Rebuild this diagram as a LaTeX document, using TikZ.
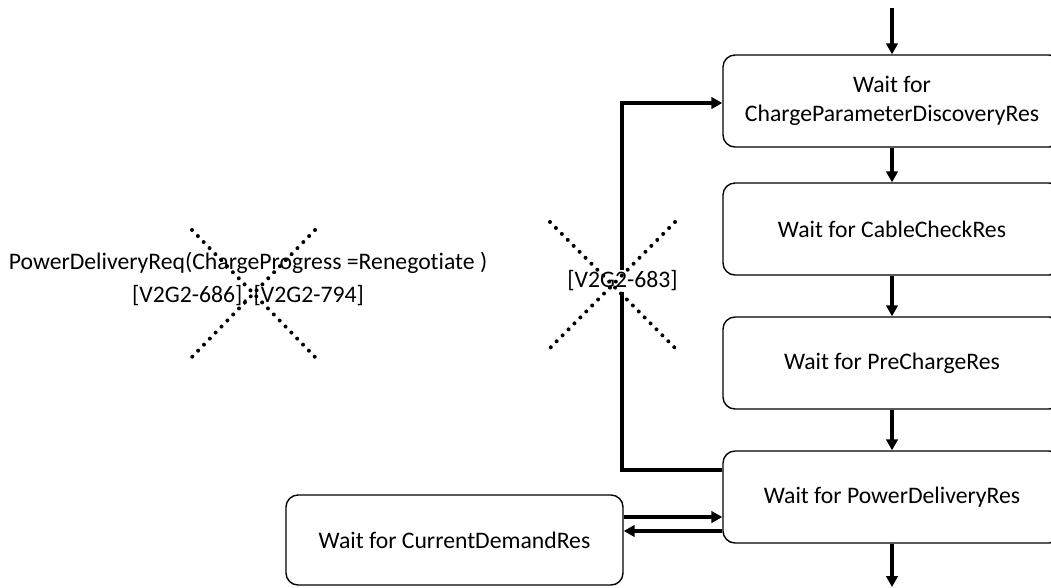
\documentclass[tikz,border=0pt]{standalone}
\usepackage{fontspec}
\setmainfont{Carlito}[Ligatures=NoCommon]
\usetikzlibrary{positioning, arrows.meta}

\begin{document}
\begin{tikzpicture}[x=1pt, y=-1pt,
    state/.style={draw, rounded corners=12pt, line width=1.4pt, align=center,
        minimum width=338pt, minimum height=92pt, inner sep=0pt},
    flow/.style={line width=4pt, -{Triangle[length=11pt, width=11.5pt]}},
    cross/.style={line width=4pt, line cap=round, dash pattern=on 0pt off 8.4pt}]
    \fontsize{23.7}{29}\selectfont
    \useasboundingbox (0,0) rectangle (1051,587);

    % states
    \node[state] (cpd) at (892,101) {Wait for\\ChargeParameterDiscoveryRes};
    \node[state] (cc) at (892,229) {Wait for CableCheckRes};
    \node[state] (pc) at (892,363) {Wait for PreChargeRes};
    \node[state] (pd) at (892,497) {Wait for PowerDeliveryRes};
    \node[state, minimum width=337pt, minimum height=90pt] (cd) at (454.5,540) {Wait for CurrentDemandRes};

    \coordinate (in) at (892,8);
    \coordinate (out) at (892,587);

    \draw[flow] (in) -- (cpd);
    \draw[flow] (cpd) -- (cc);
    \draw[flow] (cc) -- (pc);
    \draw[flow] (pc) -- (pd);
    \draw[flow] (pd) -- (out);

    % renegotiation loop
    \draw[flow] ([yshift=27pt]pd.west) -- ++(-100,0) |- ([yshift=-2pt]cpd.west);
    \node[fill=white, inner sep=1pt] (req683) at (622.5,281) {[V2G2-683]};

    \draw[flow] ([yshift=23pt]cd.east) -- ([yshift=23pt]cd.east -| pd.west);
    \draw[flow] ([yshift=-34pt]pd.west) -- ([yshift=-34pt]pd.west -| cd.east);

    \node[align=center] (reneg) at (248,279) {PowerDeliveryReq(ChargeProgress =Renegotiate )\\[3.5pt]
        [V2G2-686], [V2G2-794]};

    % crossed out
    \draw[cross] (192,230) -- (315,357);
    \draw[cross] (315,230) -- (192,357);
    \draw[cross] (550,222) -- (675,348);
    \draw[cross] (675,222) -- (550,348);
\end{tikzpicture}
\end{document}
